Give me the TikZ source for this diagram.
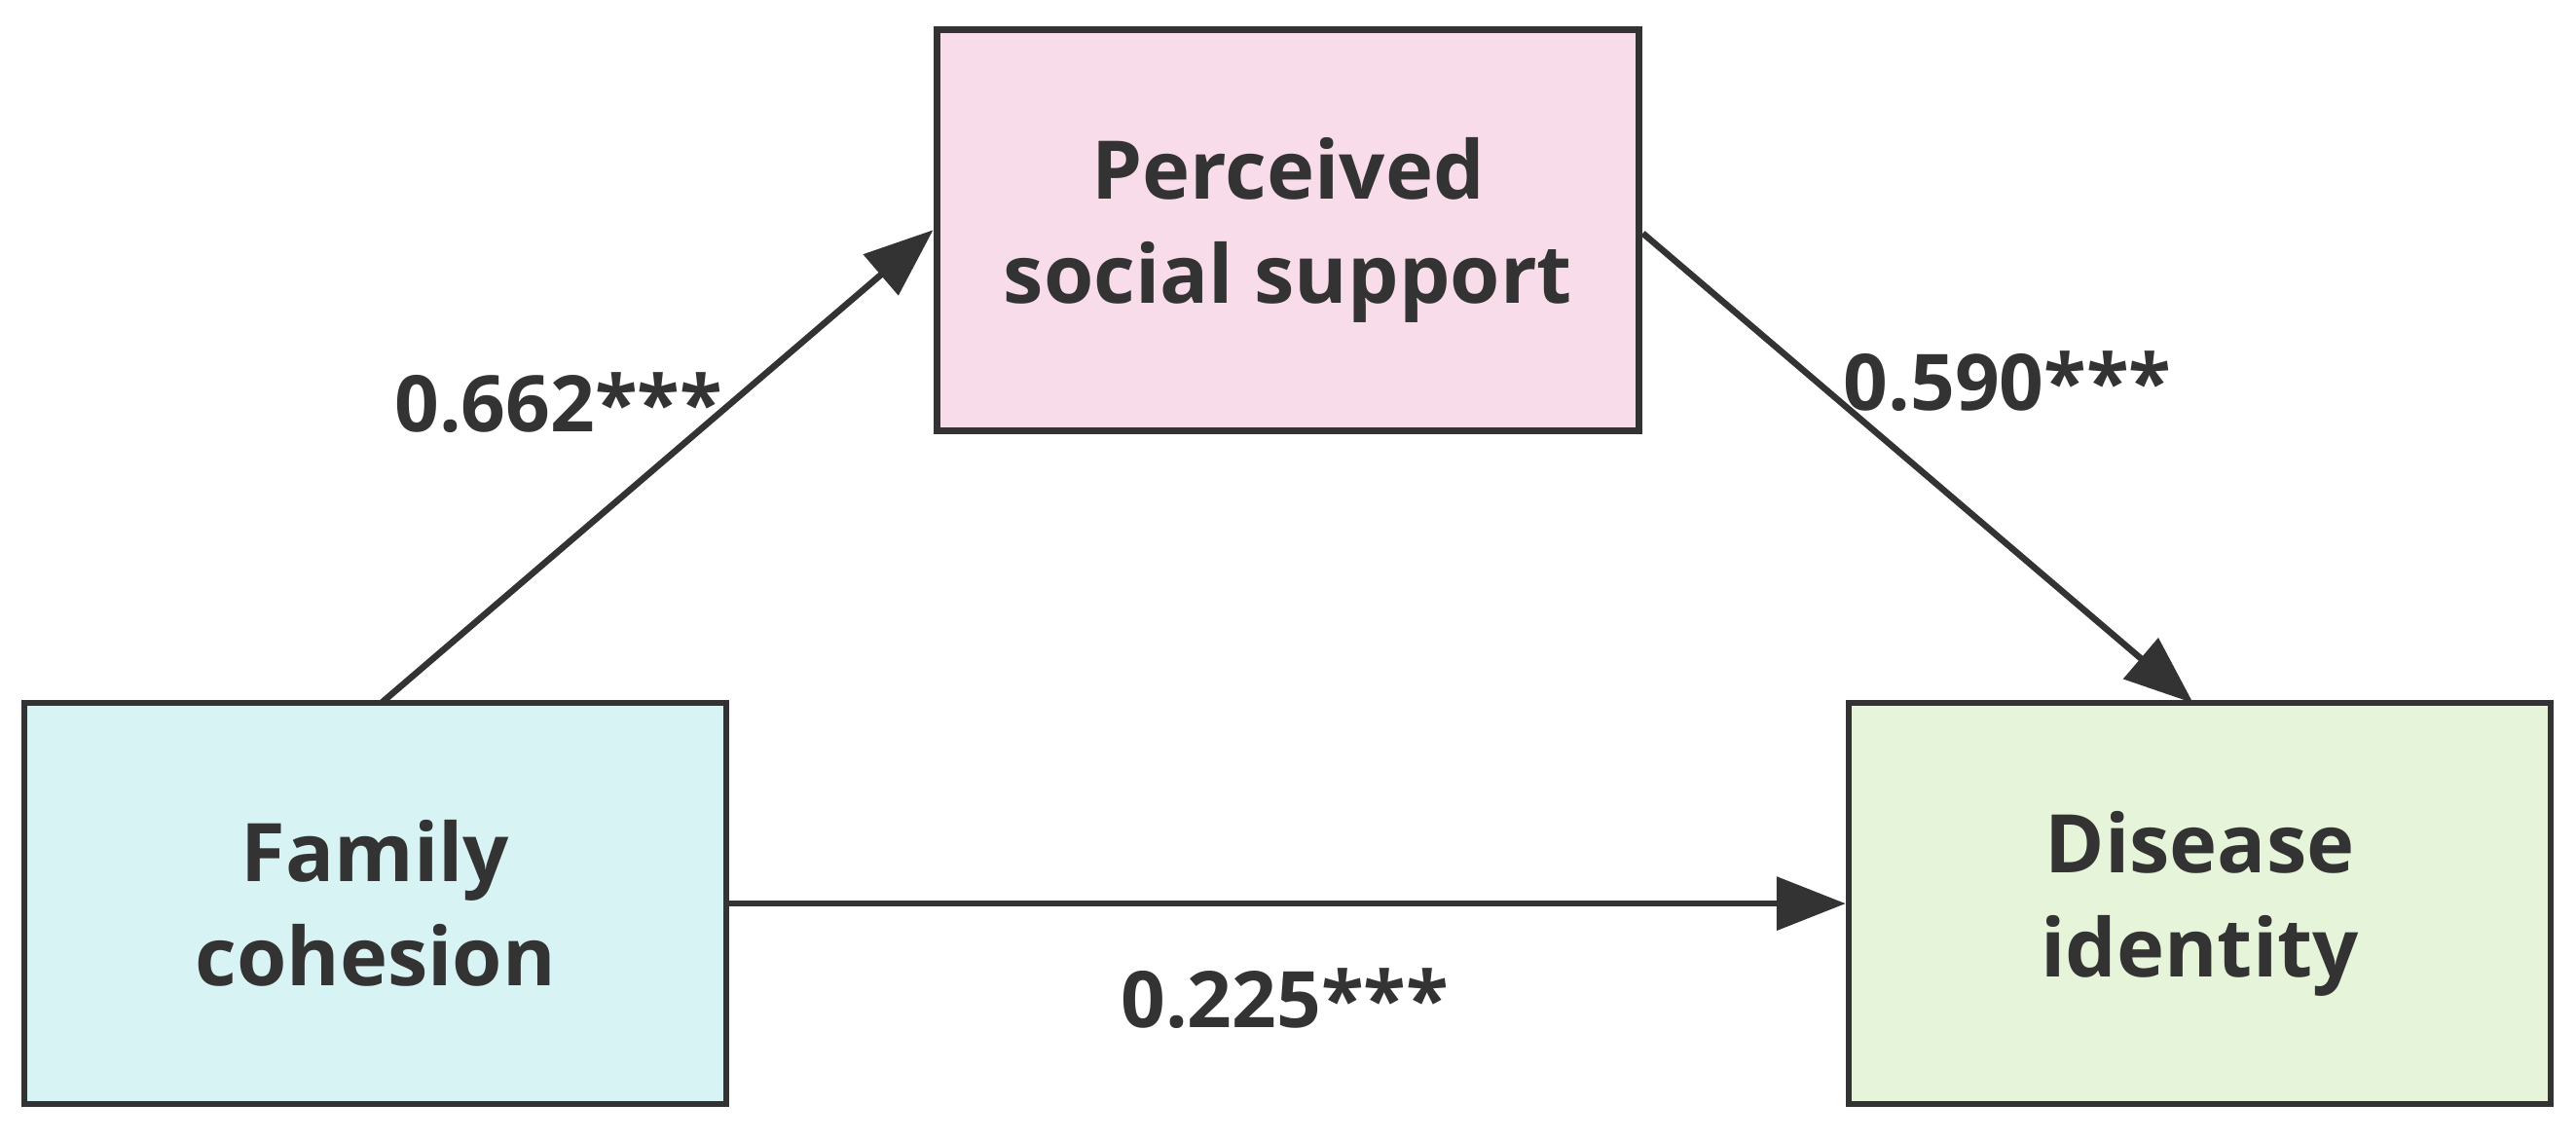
\documentclass[tikz,border=0pt]{standalone}
\usepackage{fontspec}
\setmainfont{Open Sans}
\usetikzlibrary{arrows.meta}
\definecolor{ink}{HTML}{333333}
\definecolor{pinkf}{HTML}{F9DCEA}
\definecolor{cyanf}{HTML}{D8F3F3}
\definecolor{greenf}{HTML}{E6F4D9}
\begin{document}
\begin{tikzpicture}[x=0.01cm,y=-0.01cm,
  box/.style={draw=ink,line width=1.1pt,minimum width=4.27cm,minimum height=2.44cm,align=center,font=\fontsize{14}{18}\selectfont\bfseries,text=ink,inner sep=0pt},
  arr/.style={draw=ink,line width=1.1pt,-{Triangle[length=0.42cm,width=0.32cm]}},
  lab/.style={font=\fontsize{13.5}{16}\selectfont\bfseries,text=ink}]
\useasboundingbox (0,0) rectangle (1568,694);
\node[box,fill=pinkf] (p) at (784,140) {Perceived\\social support};
\node[box,fill=cyanf] (f) at (228.5,550) {Family\\cohesion};
\node[box,fill=greenf] (d) at (1339,550) {Disease\\identity};
\coordinate (fa) at (232,428);
\coordinate (pa) at (568,140);
\coordinate (pb) at (1000,142);
\coordinate (da) at (1335,428);
\draw[arr] (fa) -- (pa);
\draw[arr] (pb) -- (da);
\draw[arr] (f.east |- 0,550) -- (d.west |- 0,550);
\node[lab] (l1) at (340,245) {0.662***};
\node[lab] (l2) at (1222,232) {0.590***};
\node[lab] (l3) at (782,608) {0.225***};
\end{tikzpicture}
\end{document}
